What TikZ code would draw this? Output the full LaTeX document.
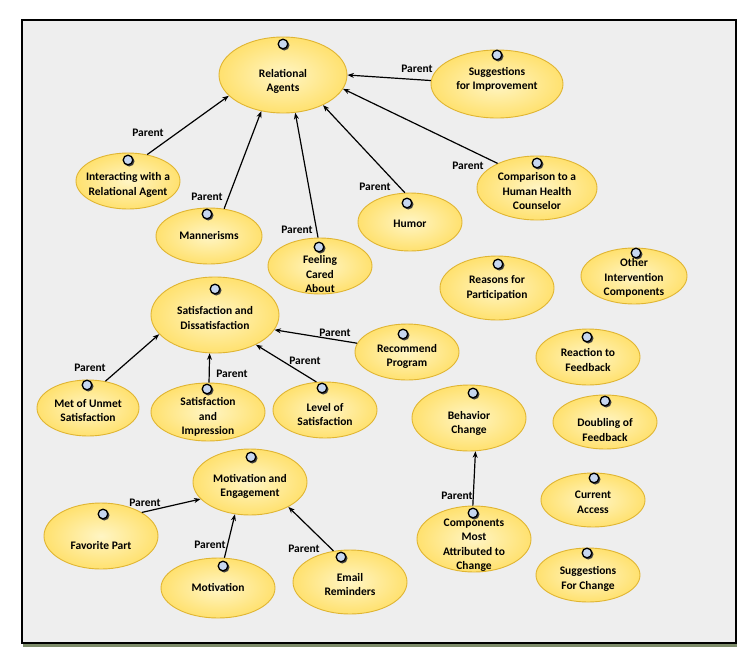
\documentclass[tikz,border=0pt]{standalone}
\usepackage{fontspec}
\setmainfont{Carlito}
\usetikzlibrary{shapes.geometric,arrows.meta}
\definecolor{ovfill}{HTML}{FFF5C4}
\definecolor{ovedge}{HTML}{FFE16F}
\definecolor{ovline}{HTML}{E0B532}
\definecolor{iconfill}{HTML}{C7D7F0}
\definecolor{bggray}{HTML}{EEEEEE}
\definecolor{frameshadow}{HTML}{7D8C6A}
\tikzset{
 oval/.style={ellipse, draw=ovline, line width=0.9pt, inner color=ovfill, outer color=ovedge, inner sep=0pt},
 txt/.style={align=center, font=\fontsize{11.5}{14.5}\selectfont\bfseries, inner sep=0pt},
 lab/.style={font=\fontsize{11.5}{13}\selectfont\bfseries, inner sep=0pt},
 rel/.style={line width=1.2pt, -{Stealth[length=6.5pt,width=5pt]}},
}
\newcommand\ucase[7]{%
 \node[oval, minimum width=#4*2pt, minimum height=#5*2pt] (#1) at (#2,#3) {};
 \node[txt] (#1-t) at (#2,#6) {#7};
}
\newcommand\uicon[2]{%
 \fill[black!75] (#1+1.3,#2+1.3) circle[radius=5.2pt];
 \filldraw[fill=iconfill, draw=black, line width=1.3pt] (#1,#2) circle[radius=4.8pt];
}
\begin{document}
\begin{tikzpicture}[x=1pt,y=-1pt]
\fill[white] (0,0) rectangle (753,665);
\useasboundingbox (0,0) rectangle (753,665);
\fill[frameshadow] (23,23) rectangle (737,647);
\filldraw[fill=bggray, draw=black, line width=1.5pt] (22,20) rectangle (736,643);

\ucase{ra}{283}{75}{64}{38}{81.5}{Relational\\Agents}
\ucase{sfi}{497}{84}{66}{34}{79.5}{Suggestions\\for Improvement}
\ucase{iwra}{128}{181}{52}{28}{185}{Interacting with a\\Relational Agent}
\ucase{man}{209}{236}{53}{28}{236}{Mannerisms}
\ucase{fca}{320}{266}{52}{28}{274.5}{Feeling\\Cared\\About}
\ucase{hum}{410}{222}{52}{29}{224}{Humor}
\ucase{comp}{537}{188}{60}{32}{191.5}{Comparison to a\\Human Health\\Counselor}
\ucase{sad}{215}{315}{64}{38}{318}{Satisfaction and\\Dissatisfaction}
\ucase{rec}{407}{352}{52}{28}{356.5}{Recommend\\Program}
\ucase{mus}{88}{408}{51}{28}{410.5}{Met of Unmet\\Satisfaction}
\ucase{sai}{208}{412}{57}{29}{417}{Satisfaction\\and\\Impression}
\ucase{los}{325}{410}{52}{28}{414.5}{Level of\\Satisfaction}
\ucase{rfp}{497}{288}{57}{32}{288}{Reasons for\\Participation}
\ucase{oic}{634}{276}{53}{28}{278}{Other\\Intervention\\Components}
\ucase{rtf}{588}{357}{52}{28}{360}{Reaction to\\Feedback}
\ucase{bc}{469}{418}{57}{33}{423.5}{Behavior\\Change}
\ucase{dof}{605}{422}{52}{27}{430}{Doubling of\\Feedback}
\ucase{cmac}{474}{539}{57}{33}{545}{Components\\Most\\Attributed to\\Change}
\ucase{ca}{593}{500}{52}{27}{502.5}{Current\\Access}
\ucase{sfc}{588}{575}{52}{27}{579}{Suggestions\\For Change}
\ucase{me}{250}{482}{57}{33}{486.5}{Motivation and\\Engagement}
\ucase{fp}{101}{536}{57}{33}{545}{Favorite Part}
\ucase{mot}{218}{588}{57}{30}{587}{Motivation}
\ucase{er}{350}{582}{57}{32}{584.5}{Email\\Reminders}

\draw[rel] (iwra.54.9) -- (ra.-159);
\draw[rel] (man.61.7) -- (ra.-121.2);
\draw[rel] (fca.94) -- (ra.-72.5);
\draw[rel] (hum.100) -- (ra.-37.6);
\draw[rel] (comp.148) -- (ra.-13.4);
\draw[rel] (sfi.177.4) -- (ra.0);
\draw[rel] (rec.170.7) -- (sad.-14);
\draw[rel] (mus.57.3) -- (sad.-161.9);
\draw[rel] (sai.88) -- (sad.-98.7);
\draw[rel] (los.107) -- (sad.-36.4);
\draw[rel] (cmac.92) -- (bc.-79.7);
\draw[rel] (fp.30.5) -- (me.-161.9);
\draw[rel] (mot.78) -- (me.-115.9);
\draw[rel] (er.118) -- (me.-33);

\uicon{283}{44}
\uicon{497}{55}
\uicon{128}{160}
\uicon{207}{214}
\uicon{319}{247}
\uicon{407}{203}
\uicon{537}{163}
\uicon{215}{289}
\uicon{403}{334}
\uicon{87}{385}
\uicon{207}{389}
\uicon{322}{388}
\uicon{498}{264}
\uicon{636}{253}
\uicon{587}{337}
\uicon{473}{393}
\uicon{605}{401}
\uicon{473}{513}
\uicon{594}{478}
\uicon{587}{553}
\uicon{251}{457}
\uicon{103}{514}
\uicon{223}{566}
\uicon{341}{557}

\node[lab] (p1) at (148,133) {Parent};
\node[lab] (p2) at (207,197) {Parent};
\node[lab] (p3) at (297,230) {Parent};
\node[lab] (p4) at (375,187) {Parent};
\node[lab] (p5) at (468,166) {Parent};
\node[lab] (p6) at (417,69) {Parent};
\node[lab] (p7) at (335,333) {Parent};
\node[lab] (p8) at (90,368) {Parent};
\node[lab] (p9) at (232,374) {Parent};
\node[lab] (p10) at (305,361) {Parent};
\node[lab] (p11) at (457,496) {Parent};
\node[lab] (p12) at (145,503) {Parent};
\node[lab] (p13) at (210,545) {Parent};
\node[lab] (p14) at (304,549) {Parent};
\end{tikzpicture}
\end{document}
